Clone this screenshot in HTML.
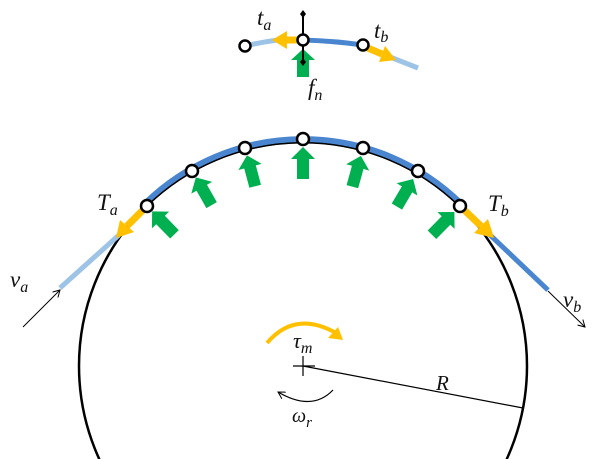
<!DOCTYPE html>
<html><head><meta charset="utf-8"><style>
html,body{margin:0;padding:0;background:#fff;width:601px;height:459px;overflow:hidden}
svg{display:block}
svg text{font-family:"Liberation Serif",serif;font-style:italic;fill:#111}
</style></head><body>
<svg width="601" height="459" viewBox="0 0 601 459">
<defs>
<g id="ga"><polygon points="0,0 -12,12 -6,12 -6,32 6,32 6,12 12,12" fill="#00b050"/></g>
<marker id="ah" markerWidth="8" markerHeight="8" refX="7" refY="4" orient="auto" markerUnits="userSpaceOnUse"><path d="M0,0 L7,4 L0,8" fill="none" stroke="#000" stroke-width="1"/></marker>
</defs>
<circle cx="303" cy="366" r="224" fill="none" stroke="#000" stroke-width="2.5"/>
<line x1="119" y1="235" x2="60" y2="288" stroke="#9dc3e6" stroke-width="5"/>
<line x1="488" y1="233" x2="548" y2="290" stroke="#4a86d0" stroke-width="5"/>
<path d="M145.5,203 A226,226 0 0 1 460.5,203" fill="none" stroke="#4a86d0" stroke-width="6"/>
<path d="M147,206 A224,224 0 0 1 459,206" fill="none" stroke="#000" stroke-width="1.5"/>
<line x1="147" y1="206" x2="127" y2="226" stroke="#ffc000" stroke-width="7"/>
<polygon points="116,238 120,220 134,232" fill="#ffc000"/>
<line x1="460" y1="206" x2="481" y2="226" stroke="#ffc000" stroke-width="7"/>
<polygon points="494,238 474,233 488,219" fill="#ffc000"/>
<use href="#ga" transform="rotate(-44.3 303 366) translate(303 150)"/>
<use href="#ga" transform="rotate(-29.6 303 366) translate(303 149)"/>
<use href="#ga" transform="rotate(-14.9 303 366) translate(303 148)"/>
<use href="#ga" transform="rotate(0 303 366) translate(303 147)"/>
<use href="#ga" transform="rotate(15.4 303 366) translate(303 148)"/>
<use href="#ga" transform="rotate(30.5 303 366) translate(303 149)"/>
<use href="#ga" transform="rotate(44.5 303 366) translate(303 150)"/>
<g fill="#fff" stroke="#000" stroke-width="2.5">
<circle cx="147" cy="206" r="6"/><circle cx="192" cy="171" r="6"/><circle cx="245" cy="148" r="6"/>
<circle cx="303" cy="139" r="6"/><circle cx="363" cy="148" r="6"/><circle cx="418" cy="171" r="6"/><circle cx="460" cy="206" r="6"/>
</g>
<line x1="23" y1="327" x2="60" y2="290" stroke="#000" stroke-width="1" marker-end="url(#ah)"/>
<line x1="548" y1="291" x2="585" y2="327" stroke="#000" stroke-width="1" marker-end="url(#ah)"/>
<text x="10" y="287" font-size="23">v<tspan font-size="16" dy="5">a</tspan></text>
<text x="563" y="307" font-size="23">v<tspan font-size="16" dy="5">b</tspan></text>
<text x="97" y="210" font-size="23">T<tspan font-size="16" dy="5">a</tspan></text>
<text x="488" y="211" font-size="23">T<tspan font-size="16" dy="5">b</tspan></text>
<line x1="293" y1="366" x2="315" y2="366" stroke="#000" stroke-width="1.2"/>
<line x1="303" y1="356" x2="303" y2="376" stroke="#000" stroke-width="1.2"/>
<line x1="303" y1="366" x2="523" y2="408" stroke="#000" stroke-width="1.2"/>
<text x="436" y="390" font-size="21">R</text>
<path d="M267,343 Q295,310 336,333" fill="none" stroke="#ffc000" stroke-width="4"/>
<polygon points="343,340 328,338 338,327" fill="#ffc000"/>
<text x="293" y="348" font-size="22">τ<tspan font-size="16" dy="5">m</tspan></text>
<path d="M333,390 Q312,412 278,392" fill="none" stroke="#000" stroke-width="1.2" marker-end="url(#ah)"/>
<text x="292" y="422" font-size="20">ω<tspan font-size="15" dy="5">r</tspan></text>
<path d="M245,46 Q262,42 278,40" fill="none" stroke="#9dc3e6" stroke-width="5"/>
<path d="M303,40 Q335,41 363,45" fill="none" stroke="#4a86d0" stroke-width="5"/>
<path d="M390,57 L418,68" fill="none" stroke="#9dc3e6" stroke-width="5"/>
<line x1="303" y1="40" x2="285" y2="40" stroke="#ffc000" stroke-width="7"/>
<polygon points="272,40 287,31 287,49" fill="#ffc000"/>
<line x1="363" y1="46" x2="382" y2="54" stroke="#ffc000" stroke-width="7"/>
<polygon points="396,60 379,62 385,46" fill="#ffc000"/>
<polygon points="303,49 291,60 297,60 297,77 309,77 309,60 315,60" fill="#00b050"/>
<line x1="303" y1="13" x2="303" y2="62" stroke="#000" stroke-width="2"/>
<polygon points="303,10 306,14 303,18 300,14" fill="#000"/>
<polygon points="303,58 306,62 303,66 300,62" fill="#000"/>
<g fill="#fff" stroke="#000" stroke-width="2.5">
<circle cx="245" cy="46" r="5.5"/><circle cx="303" cy="40" r="5.5"/><circle cx="363" cy="45" r="5.5"/>
</g>
<text x="257" y="25" font-size="23">t<tspan font-size="16" dy="5">a</tspan></text>
<text x="374" y="38" font-size="23">t<tspan font-size="16" dy="4">b</tspan></text>
<text x="308" y="95" font-size="23">f<tspan font-size="16" dy="5">n</tspan></text>
</svg>
</body></html>
